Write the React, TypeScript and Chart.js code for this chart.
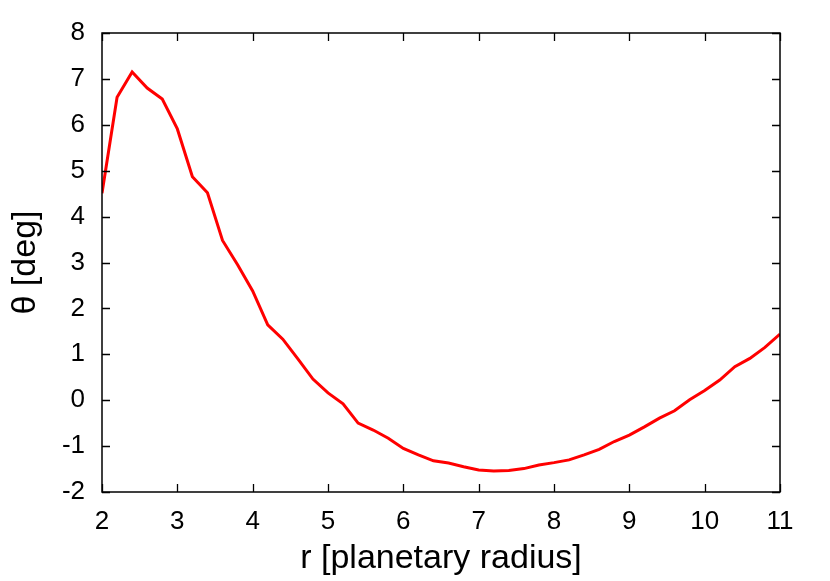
import React, { useEffect, useRef } from "react";
import { Chart, registerables } from "chart.js";

Chart.register(...registerables);

const rValues = [
  2.0, 2.2, 2.4, 2.6, 2.8, 3.0, 3.2, 3.4, 3.6, 3.8,
  4.0, 4.2, 4.4, 4.6, 4.8, 5.0, 5.2, 5.4, 5.6, 5.8,
  6.0, 6.2, 6.4, 6.6, 6.8, 7.0, 7.2, 7.4, 7.6, 7.8,
  8.0, 8.2, 8.4, 8.6, 8.8, 9.0, 9.2, 9.4, 9.6, 9.8,
  10.0, 10.2, 10.4, 10.6, 10.8, 11.0,
];

const thetaValues = [
  4.51, 6.6, 7.15, 6.8, 6.56, 5.91, 4.87, 4.52, 3.48, 2.95,
  2.38, 1.64, 1.33, 0.9, 0.46, 0.16, -0.08, -0.5, -0.65, -0.83,
  -1.05, -1.19, -1.32, -1.37, -1.45, -1.52, -1.54, -1.53, -1.49, -1.41,
  -1.36, -1.3, -1.19, -1.07, -0.9, -0.76, -0.58, -0.39, -0.23, 0.01,
  0.21, 0.44, 0.73, 0.91, 1.15, 1.44,
];

const xTicks = [2, 3, 4, 5, 6, 7, 8, 9, 10, 11];
const yTicks = [-2, -1, 0, 1, 2, 3, 4, 5, 6, 7, 8];

const xTitle = "r [planetary radius]";
const yTitle = "θ [deg]";

const FONT = "'Liberation Sans', Arial, Helvetica, sans-serif";

const framePlugin = {
  id: "gnuplotFrame",
  afterDatasetsDraw(chart: any) {
    const { ctx, chartArea, scales } = chart;
    const { left, right, top, bottom } = chartArea;
    const tl = 8;
    ctx.save();
    ctx.strokeStyle = "#000";
    ctx.lineWidth = 1.3;
    ctx.beginPath();
    xTicks.forEach((v) => {
      const x = Math.round(scales.x.getPixelForValue(v)) + 0.5;
      ctx.moveTo(x, bottom);
      ctx.lineTo(x, bottom - tl);
      ctx.moveTo(x, top);
      ctx.lineTo(x, top + tl);
    });
    yTicks.forEach((v) => {
      const y = Math.round(scales.y.getPixelForValue(v)) + 0.5;
      ctx.moveTo(left, y);
      ctx.lineTo(left + tl, y);
      ctx.moveTo(right, y);
      ctx.lineTo(right - tl, y);
    });
    ctx.stroke();
    ctx.lineWidth = 1.5;
    ctx.strokeRect(left, top, right - left, bottom - top);
    ctx.restore();
  },
};

export default function App() {
  const canvasRef = useRef<HTMLCanvasElement | null>(null);

  useEffect(() => {
    document.body.style.margin = "0";
    const canvas = canvasRef.current;
    if (!canvas) return;
    const chart = new Chart(canvas, {
      type: "line",
      data: {
        datasets: [
          {
            data: rValues.map((r, i) => ({ x: r, y: thetaValues[i] })),
            borderColor: "#ff0000",
            borderWidth: 3,
            pointRadius: 0,
            tension: 0,
            fill: false,
          },
        ],
      },
      options: {
        animation: false,
        responsive: false,
        devicePixelRatio: 1,
        layout: { padding: { left: 0, top: 33, right: 50, bottom: 0 } },
        plugins: {
          legend: { display: false },
          tooltip: { enabled: false },
        },
        scales: {
          x: {
            type: "linear",
            min: 2,
            max: 11,
            afterBuildTicks: (scale: any) => {
              scale.ticks = xTicks.map((v) => ({ value: v }));
            },
            afterFit: (scale: any) => {
              scale.height = 89;
            },
            grid: { display: false, drawTicks: false },
            border: { display: false },
            ticks: {
              color: "#000",
              font: { family: FONT, size: 26 },
              padding: 14,
              maxRotation: 0,
              autoSkip: false,
            },
            title: {
              display: true,
              text: xTitle,
              color: "#000",
              font: { family: FONT, size: 34 },
              padding: { top: 0, bottom: 2 },
            },
          },
          y: {
            type: "linear",
            min: -2,
            max: 8,
            afterBuildTicks: (scale: any) => {
              scale.ticks = yTicks.map((v) => ({ value: v }));
            },
            afterFit: (scale: any) => {
              scale.width = 102;
            },
            grid: { display: false, drawTicks: false },
            border: { display: false },
            ticks: {
              color: "#000",
              font: { family: FONT, size: 26 },
              padding: 17,
              autoSkip: false,
            },
            title: {
              display: true,
              text: yTitle,
              color: "#000",
              font: { family: FONT, size: 34 },
              padding: { top: 5, bottom: 0 },
            },
          },
        },
      },
      plugins: [framePlugin],
    } as any);
    return () => chart.destroy();
  }, []);

  return (
    <div style={{ position: "absolute", left: 0, top: 0, width: 830, height: 581, background: "#fff" }}>
      <canvas ref={canvasRef} width={830} height={581} style={{ width: 830, height: 581, display: "block" }} />
    </div>
  );
}
